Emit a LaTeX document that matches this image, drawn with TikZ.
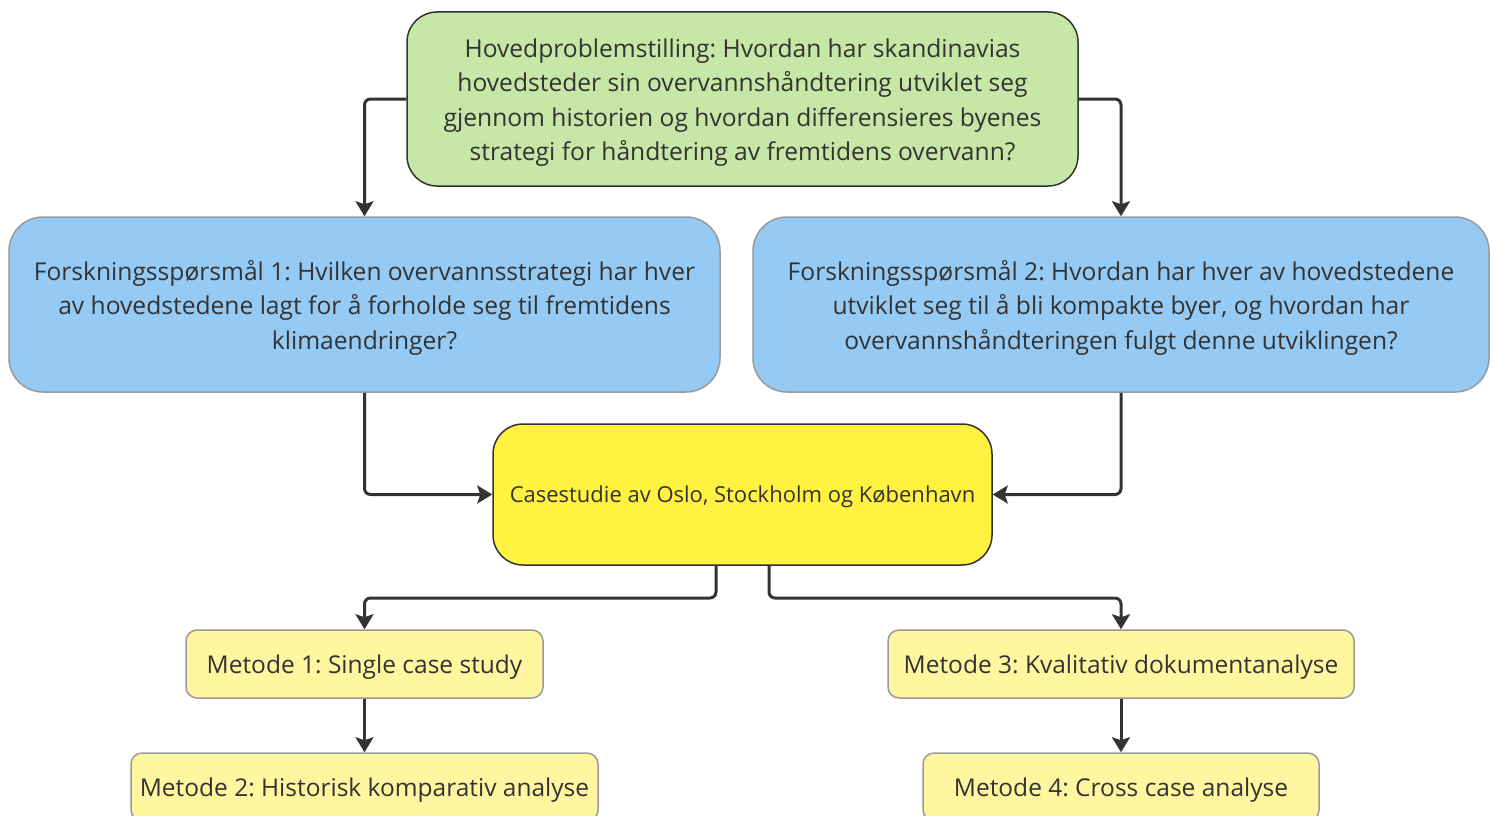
\documentclass[tikz,border=0pt]{standalone}
\usepackage{fontspec}
\setmainfont{Open Sans}
\usetikzlibrary{arrows.meta}
\frenchspacing
\definecolor{txt}{HTML}{333333}
\definecolor{lnc}{HTML}{333333}
\definecolor{grfill}{HTML}{C6E7A6}
\definecolor{blfill}{HTML}{94CAF4}
\definecolor{yefill}{HTML}{FFF241}
\definecolor{ltyfill}{HTML}{FFF6A0}
\definecolor{greybd}{HTML}{9A9A9A}
\begin{document}
\begin{tikzpicture}[x=1pt,y=-1pt,
  box/.style={rectangle, rounded corners=#1, inner sep=0pt, line width=1.5pt},
  lbl/.style={inner sep=0pt, align=center, text=txt},
  greenbox/.style={box=30pt, draw=lnc, fill=grfill},
  bluebox/.style={box=34pt, draw=greybd, fill=blfill},
  yelbox/.style={box=30pt, draw=lnc, fill=yefill},
  metbox/.style={box=11pt, draw=greybd, fill=ltyfill},
  bigtxt/.style={lbl, font=\fontsize{24.6}{34.5}\selectfont},
  midtxt/.style={lbl, font=\fontsize{22}{30}\selectfont},
  mettxt/.style={lbl, font=\fontsize{24.5}{30}\selectfont},
  conn/.style={draw=lnc, line width=3pt, rounded corners=6pt, -{Stealth[length=15pt,width=18pt,inset=3pt]}}
]
\useasboundingbox (0,0) rectangle (1496,816);
\begin{scope}
\clip (0,0) rectangle (1496,816);
\node[greenbox, minimum width=671pt, minimum height=174pt] (hp) at (742.5,99) {};
\node[bigtxt] (hpt) at ([yshift=-3.5pt]hp.center)
  {Hovedproblemstilling: Hvordan har skandinavias\\hovedsteder sin overvannshåndtering utviklet seg\\gjennom historien og hvordan differensieres byenes\\strategi for håndtering av fremtidens overvann?};
\node[bluebox, minimum width=711pt, minimum height=175pt] (fs1) at (364.5,304.5) {};
\node[bigtxt] (fs1t) at ([yshift=-3pt]fs1.center)
  {Forskningsspørsmål 1: Hvilken overvannsstrategi har hver\\av hovedstedene lagt for å forholde seg til fremtidens\\klimaendringer?};
\node[bluebox, minimum width=736pt, minimum height=175pt] (fs2) at (1121,304.5) {};
\node[bigtxt] (fs2t) at ([yshift=-3pt]fs2.center)
  {Forskningsspørsmål 2: Hvordan har hver av hovedstedene\\utviklet seg til å bli kompakte byer, og hvordan har\\overvannshåndteringen fulgt denne utviklingen?};
\node[yelbox, minimum width=499pt, minimum height=141pt] (cs) at (742.5,494.5) {};
\node[midtxt] (cst) at ([yshift=-2pt]cs.center)
  {Casestudie av Oslo, Stockholm og København};
\node[metbox, minimum width=357pt, minimum height=68pt] (m1) at (364.5,664) {};
\node[mettxt] (m1t) at ([yshift=-3pt]m1.center) {Metode 1: Single case study};
\node[metbox, minimum width=467pt, minimum height=68pt] (m2) at (364.5,787) {};
\node[mettxt] (m2t) at ([yshift=-3.5pt]m2.center) {Metode 2: Historisk komparativ analyse};
\node[metbox, minimum width=466pt, minimum height=68pt] (m3) at (1121,664) {};
\node[mettxt] (m3t) at ([yshift=-3pt]m3.center) {Metode 3: Kvalitativ dokumentanalyse};
\node[metbox, minimum width=396pt, minimum height=68pt] (m4) at (1121,787) {};
\node[mettxt] (m4t) at ([yshift=-3.5pt]m4.center) {Metode 4: Cross case analyse};
\coordinate (j1) at (716,598);
\coordinate (j2) at (769,598);
\draw[conn] (hp.west) -| (fs1.north);
\draw[conn] (hp.east) -| (fs2.north);
\draw[conn] (fs1.south) |- (cs.west);
\draw[conn] (fs2.south) |- (cs.east);
\draw[conn] (cs.south -| j1) -- (j1) -| (m1.north);
\draw[conn] (cs.south -| j2) -- (j2) -| (m3.north);
\draw[conn] (m1.south) -- (m2.north);
\draw[conn] (m3.south) -- (m4.north);
\end{scope}
\end{tikzpicture}
\end{document}
